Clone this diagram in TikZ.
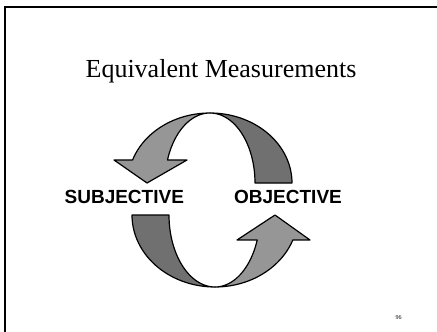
\documentclass[tikz,border=0pt]{standalone}
\usepackage{fontspec}
\setmainfont{Liberation Serif}
\newfontfamily\labelfont{Liberation Sans}
\begin{document}
\begin{tikzpicture}[x=1pt,y=-1pt,
  lightpart/.style={fill=black!41,draw=black,line width=1.2pt,line join=round},
  darkpart/.style={fill=black!56,draw=black,line width=1.2pt,line join=round},
  lbl/.style={font=\labelfont\bfseries\fontsize{19}{22}\selectfont,anchor=base,inner sep=0pt},
  frameline/.style={line width=2pt}]
\useasboundingbox (0,0) rectangle (437,332);
% frame
\draw[frameline] (4.8,333) -- (4.8,6.5) -- (438,6.5);
% title
\node[font=\fontsize{26}{30}\selectfont,anchor=base,inner sep=0pt] (title) at (221,77) {Equivalent Measurements};
% upper arrow: center (210,183)
\path[darkpart] plot[domain=90:0,samples=40] ({210+82*cos(\x)},{183-70*sin(\x)})
  -- plot[domain=0:90,samples=40] ({210+45*cos(\x)},{183-70*sin(\x)}) -- cycle;
\path[lightpart] plot[domain=90:160.8,samples=40] ({210+82*cos(\x)},{183-70*sin(\x)})
  -- (114,160) -- (147,183) -- (187,160)
  -- plot[domain=160.8:90,samples=40] ({210+45*cos(\x)},{183-70*sin(\x)}) -- cycle;
% lower arrow: center (215,215)
\path[darkpart] plot[domain=180:270,samples=40] ({215+83*cos(\x)},{215-72*sin(\x)})
  -- plot[domain=270:180,samples=40] ({215+46*cos(\x)},{215-72*sin(\x)}) -- cycle;
\path[lightpart] plot[domain=270:339.7,samples=40] ({215+83*cos(\x)},{215-72*sin(\x)})
  -- (310,240) -- (275,215) -- (237,240)
  -- plot[domain=339.7:270,samples=40] ({215+45*cos(\x)},{215-72*sin(\x)}) -- cycle;
% labels
\node[lbl] (subj) at (124.3,203.5) {SUBJECTIVE};
\node[lbl] (obj) at (288,203.5) {OBJECTIVE};
% page number
\node[font=\fontsize{6}{7}\selectfont,anchor=base,inner sep=0pt] (pagenum) at (398.5,319) {96};
\end{tikzpicture}
\end{document}
